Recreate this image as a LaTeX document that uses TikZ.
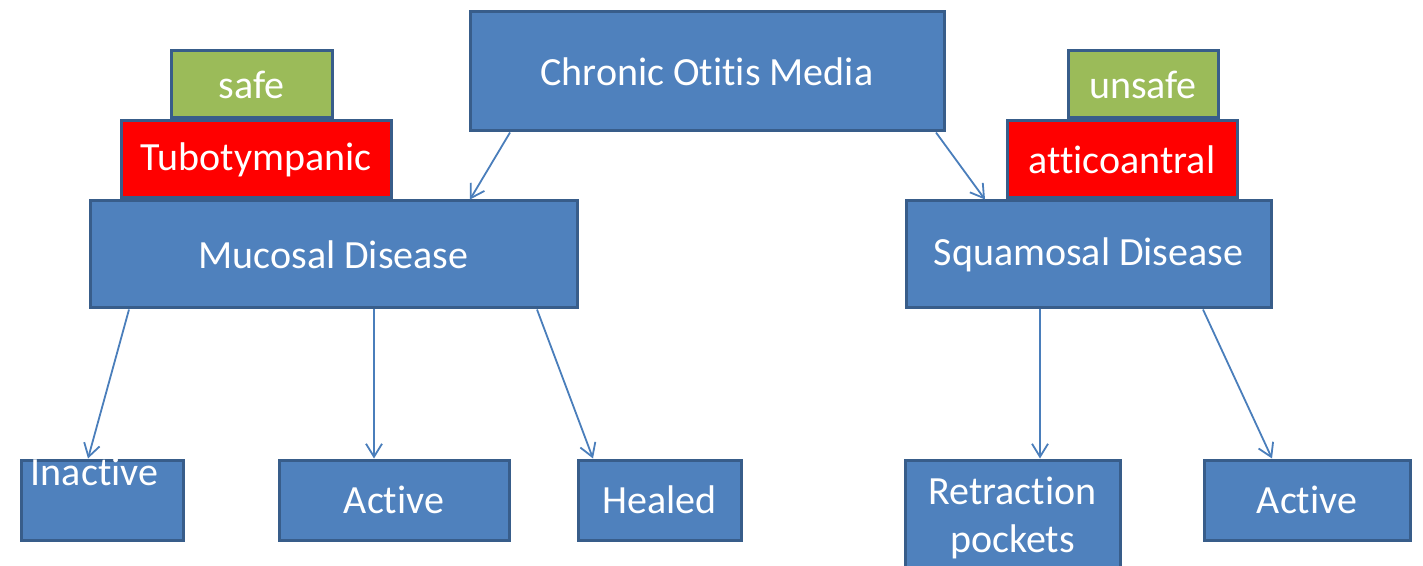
\documentclass[tikz,border=0pt]{standalone}
\usepackage{fontspec}
\setmainfont{Carlito}[Ligatures=NoCommon]
\usetikzlibrary{arrows.meta,positioning}

\definecolor{boxblue}{HTML}{4F81BD}
\definecolor{boxline}{HTML}{385D8A}
\definecolor{arrowblue}{HTML}{4A7EBB}
\definecolor{safegreen}{HTML}{9BBB59}

\tikzset{
	box/.style={draw=boxline,fill=boxblue,line width=1.5pt,text=white,anchor=north west,
		inner sep=0pt,align=center,font=\fontsize{20}{24}\selectfont},
	tag/.style={box,fill=safegreen},
	kind/.style={box,fill=red},
	lbl/.style={text=white,inner sep=0pt,font=\fontsize{20}{24}\selectfont},
}

\begin{document}
\begin{tikzpicture}[x=0.5pt,y=-0.5pt,>={Straight Barb[length=6.5pt,width=8pt]},line width=0.9pt]

\useasboundingbox (0,0) rectangle (1423,566);

\node[box,minimum width=237pt,minimum height=59.5pt]	(com)	at (468.5,10.5)	{Chronic Otitis Media};

% left branch
\node[tag,minimum width=80.5pt,minimum height=33.5pt]	(safe)	at (169.5,49.5)	{safe};
\node[kind,minimum width=135pt,minimum height=38.5pt]	(tubo)	at (119.5,119.5)	{Tubotympanic};
\node[box,minimum width=243.5pt,minimum height=53.5pt]	(mucosal)	at (88.5,199.5)	{Mucosal Disease};

% right branch
\node[tag,minimum width=75pt,minimum height=33.5pt]	(unsafe)	at (1066.5,49.5)	{unsafe};
\node[kind,minimum width=115pt,minimum height=38.5pt]	(attico)	at (1005.5,119.5)	{atticoantral};
\node[box,minimum width=182.5pt,minimum height=53.5pt]	(squamosal)	at (904.5,199.5)	{Squamosal Disease};

% bottom row
\node[box,minimum width=81pt,minimum height=40pt,
	label={[lbl,anchor=base west,xshift=5.25pt,yshift=-13.25pt]north west:Inactive}]	(inactive)	at (19.5,458.5)	{};
\node[box,minimum width=115pt,minimum height=40pt]	(active1)	at (277.5,458.5)	{Active};
\node[box,minimum width=81.5pt,minimum height=40pt]	(healed)	at (576.5,458.5)	{Healed};
\node[box,minimum width=107.5pt,minimum height=57.5pt]	(retraction)	at (903.5,458.5)	{Retraction\\pockets};
\node[box,minimum width=103pt,minimum height=40pt]	(active2)	at (1202.5,458.5)	{Active};

\path[->,arrowblue]
([xshift=20.75pt]com.south west)	edge	([xshift=190.75pt]mucosal.north west)
([xshift=-4.75pt]com.south east)	edge	([xshift=40.25pt]squamosal.north west)
([xshift=20.25pt]mucosal.south west)	edge	([xshift=34.25pt]inactive.north west)
([xshift=142.75pt]mucosal.south west)	edge	([xshift=48.25pt]active1.north west)
([xshift=224.25pt]mucosal.south west)	edge	([xshift=8.25pt]healed.north west)
([xshift=67.75pt]squamosal.south west)	edge	([xshift=68.25pt]retraction.north west)
([xshift=149.25pt]squamosal.south west)	edge	([xshift=34.75pt]active2.north west);

\end{tikzpicture}
\end{document}
